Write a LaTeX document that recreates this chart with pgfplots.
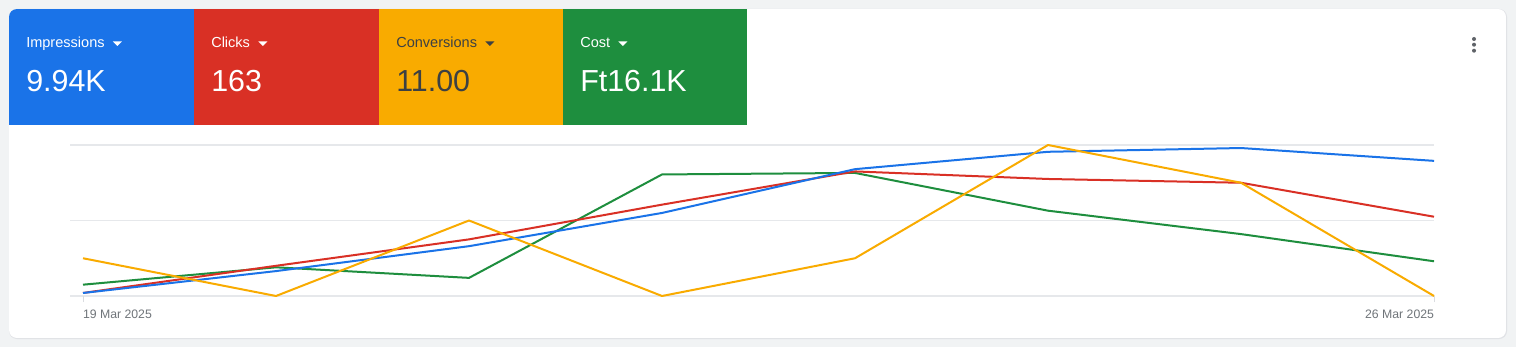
\documentclass[border=0pt]{standalone}
\usepackage{pgfplots}
\usepackage{pgfplotstable}
\pgfplotsset{compat=1.18}
\usepackage{fontspec}
\setmainfont{Liberation Sans}
\definecolor{gblue}{HTML}{1A73E8}
\definecolor{gred}{HTML}{D93025}
\definecolor{gyellow}{HTML}{F9AB00}
\definecolor{ggreen}{HTML}{1E8E3E}
\definecolor{pagebg}{HTML}{F1F3F4}
\definecolor{gridc}{HTML}{E6E8EB}
\definecolor{ticklbl}{HTML}{70757A}
\definecolor{darktxt}{HTML}{3C4043}
\definecolor{kebab}{HTML}{5F6368}
\definecolor{cardborder}{HTML}{DADCE0}

\pgfplotstableread{
x imp clk conv cost
0 0.04 0.04 0.5 0.15
1 0.33 0.40 0.0 0.38
2 0.66 0.75 1.0 0.24
3 1.10 1.21 0.0 1.61
4 1.68 1.65 0.5 1.63
5 1.91 1.55 2.0 1.13
6 1.96 1.50 1.5 0.82
7 1.79 1.05 0.0 0.46
}\data

\begin{document}
\begin{tikzpicture}[x=0.75bp,y=0.75bp]
% page background
\fill[pagebg] (0,0) rectangle (1516,347);
% card
\fill[cardborder!70!pagebg, rounded corners=6bp] (9,8) rectangle (1507,338);
\begin{scope}
\clip[rounded corners=6bp] (9,9) rectangle (1506,338);
\fill[white] (9,9) rectangle (1506,338);
\fill[gblue] (9,222) rectangle (194,338);
\fill[gred] (194,222) rectangle (379,338);
\fill[gyellow] (379,222) rectangle (563,338);
\fill[ggreen] (563,222) rectangle (747,338);
\end{scope}
% tile labels
\tikzset{lbl/.style={anchor=base west, inner sep=0pt, font=\fontsize{10.9bp}{12bp}\selectfont},
         big/.style={anchor=base west, inner sep=0pt, font=\fontsize{22.8bp}{26bp}\selectfont}}
\node[lbl, text=white] (l1) at (26,299) {Impressions};
\fill[white] (l1.base east) ++(8,6.5) -- ++(9,0) -- ++(-4.5,-4.5) -- cycle;
\node[big, text=white] at (26,255) {9.94K};
\node[lbl, text=white] (l2) at (211,299) {Clicks};
\fill[white] (l2.base east) ++(8,6.5) -- ++(9,0) -- ++(-4.5,-4.5) -- cycle;
\node[big, text=white] at (211,255) {163};
\node[lbl, text=darktxt] (l3) at (396,299) {Conversions};
\fill[darktxt] (l3.base east) ++(8,6.5) -- ++(9,0) -- ++(-4.5,-4.5) -- cycle;
\node[big, text=darktxt] at (396,255) {11.00};
\node[lbl, text=white] (l4) at (580,299) {Cost};
\fill[white] (l4.base east) ++(8,6.5) -- ++(9,0) -- ++(-4.5,-4.5) -- cycle;
\node[big, text=white] at (580,255) {Ft16.1K};
% kebab menu
\fill[kebab] (1474,308) circle (1.5bp);
\fill[kebab] (1474,302.3) circle (1.5bp);
\fill[kebab] (1474,296.3) circle (1.5bp);

\begin{axis}[
  at={(52.5bp,38.25bp)}, anchor=south west,
  scale only axis, width=1023bp, height=113.25bp,
  xmin=-0.06736, xmax=7, ymin=0, ymax=2,
  clip=false,
  axis line style={draw=none},
  ytick={0,1,2}, yticklabels={}, ymajorgrids,
  y tick style={draw=none},
  grid style={gridc, line width=1.2bp},
  xtick={0,7},
  xticklabels={{\makebox[0pt][l]{19 Mar 2025}},{\makebox[0pt][r]{26 Mar 2025}}},
  xtick pos=lower,
  tick align=outside, major tick length=4.5bp,
  x tick style={cardborder, line width=0.75bp},
  xticklabel style={text=ticklbl, font=\fontsize{9.2bp}{11bp}\selectfont, inner sep=0pt, yshift=-5.5bp},
  every axis plot/.append style={line width=1.5bp, line join=round, mark=none},
]
\addplot[ggreen] table[x=x,y=cost]{\data};
\addplot[gred] table[x=x,y=clk]{\data};
\addplot[gblue] table[x=x,y=imp]{\data};
\addplot[gyellow] table[x=x,y=conv]{\data};
\end{axis}
\end{tikzpicture}
\end{document}
